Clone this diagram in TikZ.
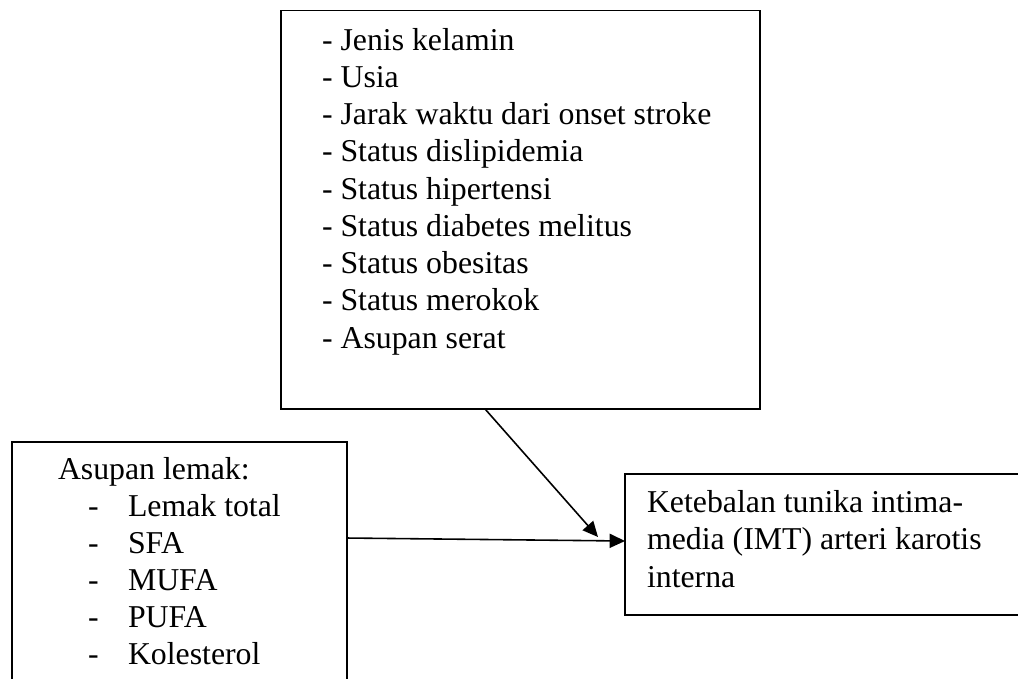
\documentclass[tikz,border=0pt]{standalone}
\usepackage{fontspec}
\setmainfont{Liberation Serif}
\usetikzlibrary{arrows.meta,calc}
\begin{document}
\begin{tikzpicture}[x=0.3774pt,y=-0.3774pt,
  box/.style={draw,line width=0.75pt,rectangle,inner sep=0pt,outer sep=0pt},
  txt/.style={anchor=base west,inner sep=0pt,outer sep=0pt,font=\fontsize{12pt}{14pt}\selectfont},
  arr/.style={line width=0.6pt,-{Triangle[length=5.8pt,width=5.3pt]}}]
\useasboundingbox (0,0) rectangle (1018,678);
\clip (0,0) rectangle (1018,678);
% boxes
\node[box,minimum width=479*0.3774pt,minimum height=398.5*0.3774pt] (top) at (520.5,209.75) {};
\node[box,minimum width=334.5*0.3774pt,minimum height=278*0.3774pt] (left) at (179.25,581) {};
\node[box,minimum width=435*0.3774pt,minimum height=141*0.3774pt] (right) at (842.5,544.5) {};
% top box text
\foreach \t [count=\i] in {Jenis kelamin,Usia,Jarak waktu dari onset stroke,Status dislipidemia,Status hipertensi,Status diabetes melitus,Status obesitas,Status merokok,Asupan serat}
  \node[txt] (t\i) at (322,{50+(\i-1)*37.25}) {- \t};
% left box text
\node[txt] (l0) at (58,479) {Asupan lemak:};
\foreach \t [count=\i] in {Lemak total,SFA,MUFA,PUFA,Kolesterol}{
  \node[txt] (d\i) at (88,{479+\i*37}) {-};
  \node[txt] (l\i) at (128,{479+\i*37}) {\t};
}
% right box text
\node[txt] (r1) at (647,512) {Ketebalan tunika intima-};
\node[txt] (r2) at (647,549.5) {media (IMT) arteri karotis};
\node[txt] (r3) at (647,587) {interna};
% connectors
\coordinate (m) at (598,537);
\draw[arr] ($(top.south west)!0.426!(top.south east)$) -- (m);
\draw[arr] ($(left.north east)+(0,96)$) -- ($(right.north west)+(0,67)$);
\end{tikzpicture}
\end{document}
